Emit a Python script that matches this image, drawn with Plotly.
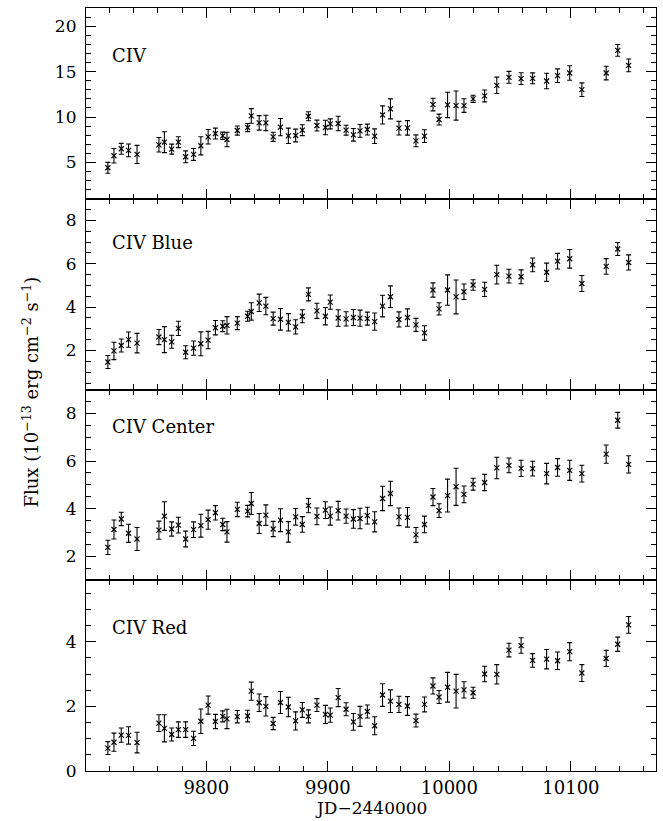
import plotly.graph_objects as go
from plotly.subplots import make_subplots

# Observation epochs (JD - 2440000)
jd = [9719, 9724, 9730, 9736, 9743, 9761, 9765.5, 9771.5, 9777, 9783,
      9789.5, 9795.5, 9801.5, 9807.5, 9813.5, 9817, 9825.5, 9834, 9837, 9843.5,
      9849, 9855, 9861, 9867.5, 9873.5, 9879, 9884, 9891, 9898, 9902,
      9908.5, 9915, 9921, 9926.5, 9932.5, 9938.5, 9945, 9951.5, 9958.5, 9965.5,
      9972.5, 9979.5, 9986.5, 9991.5, 9998.5, 10005.5, 10012, 10019.5, 10029, 10039,
      10049, 10059, 10068.5, 10080, 10089, 10099, 10109, 10129, 10138.5, 10147.5]

civ = [4.41, 5.73, 6.50, 6.32, 5.88, 6.94, 7.23, 6.46, 7.23, 5.62,
       5.88, 6.83, 7.82, 8.18, 7.93, 7.52, 8.51, 8.84, 10.12, 9.35,
       9.35, 7.82, 8.88, 7.93, 7.96, 8.55, 10.08, 9.06, 8.84, 9.24,
       9.28, 8.55, 8.04, 8.47, 8.62, 7.89, 10.23, 10.89, 8.77, 8.80,
       7.38, 7.89, 11.37, 9.72, 11.33, 11.26, 11.26, 11.99, 12.32, 13.49,
       14.37, 14.22, 14.26, 13.96, 14.55, 14.84, 13.01, 14.84, 17.33, 15.68]
civ_err = [0.6, 0.8, 0.6, 0.7, 1.0, 0.8, 1.15, 0.55, 0.6, 0.65,
           0.65, 1.0, 0.8, 0.6, 0.4, 0.8, 0.5, 0.45, 0.8, 0.8,
           0.85, 0.5, 0.95, 0.85, 0.7, 0.6, 0.5, 0.6, 0.8, 0.55,
           0.8, 0.55, 0.7, 0.7, 0.6, 0.8, 1.0, 1.1, 0.75, 0.8,
           0.65, 0.7, 0.7, 0.6, 1.4, 1.6, 0.75, 0.4, 0.65, 0.9,
           0.65, 0.65, 0.6, 0.85, 0.75, 0.8, 0.75, 0.75, 0.65, 0.7]

blue = [1.47, 1.98, 2.23, 2.50, 2.34, 2.62, 2.50, 2.40, 3.02, 1.92,
        2.11, 2.31, 2.48, 3.05, 3.12, 3.16, 3.26, 3.58, 3.80, 4.20,
        4.05, 3.47, 3.44, 3.30, 3.09, 3.58, 4.59, 3.83, 3.58, 4.23,
        3.50, 3.46, 3.52, 3.49, 3.47, 3.33, 4.05, 4.48, 3.43, 3.52,
        3.18, 2.81, 4.79, 3.92, 4.79, 4.47, 4.71, 5.02, 4.82, 5.50,
        5.43, 5.40, 5.95, 5.61, 6.12, 6.23, 5.09, 5.88, 6.68, 6.06]
blue_err = [0.3, 0.4, 0.3, 0.35, 0.45, 0.35, 0.6, 0.3, 0.33, 0.3,
            0.33, 0.55, 0.4, 0.33, 0.25, 0.4, 0.3, 0.23, 0.4, 0.4,
            0.4, 0.3, 0.5, 0.4, 0.33, 0.3, 0.3, 0.35, 0.4, 0.33,
            0.38, 0.33, 0.37, 0.37, 0.3, 0.4, 0.5, 0.5, 0.35, 0.4,
            0.3, 0.33, 0.33, 0.28, 0.7, 0.78, 0.36, 0.24, 0.33, 0.43,
            0.32, 0.32, 0.32, 0.42, 0.36, 0.43, 0.37, 0.36, 0.3, 0.35]

center = [2.38, 3.13, 3.57, 2.97, 2.73, 3.10, 3.69, 3.15, 3.31, 2.73,
          3.12, 3.29, 3.54, 3.83, 3.34, 3.03, 3.97, 3.90, 4.22, 3.38,
          3.73, 3.15, 3.52, 3.03, 3.66, 3.34, 4.13, 3.68, 3.94, 3.69,
          3.92, 3.69, 3.57, 3.59, 3.71, 3.45, 4.43, 4.64, 3.66, 3.64,
          2.90, 3.34, 4.49, 3.92, 4.55, 4.92, 4.60, 5.03, 5.10, 5.71,
          5.82, 5.69, 5.68, 5.47, 5.73, 5.61, 5.47, 6.29, 7.71, 5.86]
center_err = [0.3, 0.4, 0.28, 0.38, 0.48, 0.38, 0.6, 0.3, 0.33, 0.33,
              0.33, 0.48, 0.4, 0.3, 0.26, 0.43, 0.3, 0.24, 0.46, 0.42,
              0.43, 0.32, 0.48, 0.43, 0.35, 0.33, 0.3, 0.35, 0.35, 0.38,
              0.39, 0.3, 0.39, 0.43, 0.35, 0.42, 0.51, 0.51, 0.37, 0.41,
              0.31, 0.35, 0.36, 0.29, 0.69, 0.78, 0.35, 0.25, 0.34, 0.45,
              0.31, 0.34, 0.31, 0.43, 0.37, 0.42, 0.35, 0.38, 0.33, 0.36]

red = [0.71, 0.89, 1.11, 1.10, 0.88, 1.48, 1.32, 1.13, 1.28, 1.28,
       1.01, 1.54, 2.04, 1.53, 1.69, 1.61, 1.68, 1.70, 2.47, 2.11,
       2.00, 1.47, 2.12, 1.98, 1.55, 1.89, 1.69, 2.04, 1.75, 1.73,
       2.27, 1.91, 1.52, 1.69, 1.84, 1.40, 2.35, 2.16, 2.06, 2.01,
       1.56, 2.06, 2.63, 2.29, 2.59, 2.47, 2.51, 2.42, 3.00, 2.99,
       3.74, 3.88, 3.42, 3.46, 3.41, 3.69, 3.03, 3.48, 3.92, 4.52]
red_err = [0.2, 0.28, 0.22, 0.27, 0.32, 0.26, 0.42, 0.2, 0.24, 0.24,
           0.22, 0.38, 0.28, 0.22, 0.17, 0.3, 0.19, 0.18, 0.28, 0.27,
           0.3, 0.19, 0.34, 0.3, 0.28, 0.23, 0.2, 0.2, 0.28, 0.22,
           0.28, 0.2, 0.26, 0.31, 0.2, 0.28, 0.35, 0.35, 0.25, 0.29,
           0.2, 0.23, 0.25, 0.2, 0.46, 0.52, 0.25, 0.17, 0.24, 0.3,
           0.21, 0.24, 0.21, 0.3, 0.27, 0.28, 0.26, 0.25, 0.22, 0.26]

panel_names = ["CIV", "CIV Blue", "CIV Center", "CIV Red"]
x_ticks = [9800, 9900, 10000, 10100]
x_tick_labels = ["9800", "9900", "10000", "10100"]

FONT = "DejaVu Serif"
INK = "black"
FS = 18

panels = [
    # values, errors, y-range, major ticks, minor step, label y
    (civ, civ_err, [1, 22], [5, 10, 15, 20], 1, 16.8),
    (blue, blue_err, [0.2, 9], [2, 4, 6, 8], 0.5, 7.0),
    (center, center_err, [1, 9], [2, 4, 6, 8], 0.5, 7.45),
    (red, red_err, [0, 5.9], [0, 2, 4], 0.5, 4.45),
]

fig = make_subplots(rows=4, cols=1, shared_xaxes=True, vertical_spacing=0)

for i, (vals, errs, yr, yt, ystep, label_y) in enumerate(panels, start=1):
    fig.add_trace(
        go.Scatter(
            x=jd, y=vals, mode="markers",
            marker=dict(symbol="x-thin", size=5, color=INK,
                        line=dict(width=1.2, color=INK)),
            error_y=dict(type="data", array=errs, visible=True,
                         color=INK, thickness=1.1, width=2.5),
            showlegend=False, hoverinfo="x+y",
        ),
        row=i, col=1,
    )
    fig.update_yaxes(
        range=yr, tickmode="array", tickvals=yt, ticktext=[str(v) for v in yt],
        ticks="inside", ticklen=10, tickwidth=1, tickcolor=INK,
        minor=dict(ticks="inside", ticklen=5, tickwidth=1, tickcolor=INK,
                   tickmode="linear", tick0=0, dtick=ystep),
        showline=True, linecolor=INK, linewidth=1.2, mirror="allticks",
        showgrid=False, zeroline=False,
        tickfont=dict(family=FONT, size=FS - 1, color=INK),
        ticklabelstandoff=5,
        row=i, col=1,
    )
    fig.update_xaxes(
        range=[9701, 10170], tickmode="array", tickvals=x_ticks, ticktext=x_tick_labels,
        ticks="inside", ticklen=10, tickwidth=1, tickcolor=INK,
        minor=dict(ticks="inside", ticklen=5, tickwidth=1, tickcolor=INK,
                   tickmode="linear", tick0=9700, dtick=20),
        showline=True, linecolor=INK, linewidth=1.2, mirror="allticks",
        showgrid=False, zeroline=False,
        showticklabels=(i == 4),
        tickfont=dict(family=FONT, size=FS, color=INK),
        row=i, col=1,
    )
    fig.add_annotation(
        x=9721, y=label_y, xref=f"x{'' if i == 1 else i}", yref=f"y{'' if i == 1 else i}",
        text=panel_names[i - 1], showarrow=False, xanchor="left", yanchor="middle",
        font=dict(family=FONT, size=FS, color=INK),
    )

fig.add_annotation(
    xref="paper", yref="paper", x=-0.097, y=0.497,
    text="Flux (10<sup>−13</sup> erg cm<sup>−2</sup> s<sup>−1</sup>)",
    textangle=-90, showarrow=False, xanchor="center", yanchor="middle",
    font=dict(family=FONT, size=FS, color=INK),
)
fig.add_annotation(
    xref="paper", yref="paper", x=0.5, y=-0.0485,
    text="JD−2440000", showarrow=False, xanchor="center", yanchor="middle",
    font=dict(family=FONT, size=FS - 1, color=INK),
)

fig.update_layout(
    width=663, height=821,
    margin=dict(l=86, r=7, t=8, b=50),
    paper_bgcolor="white", plot_bgcolor="white",
    font=dict(family=FONT, size=FS, color=INK),
)

fig.write_html("out.html")
